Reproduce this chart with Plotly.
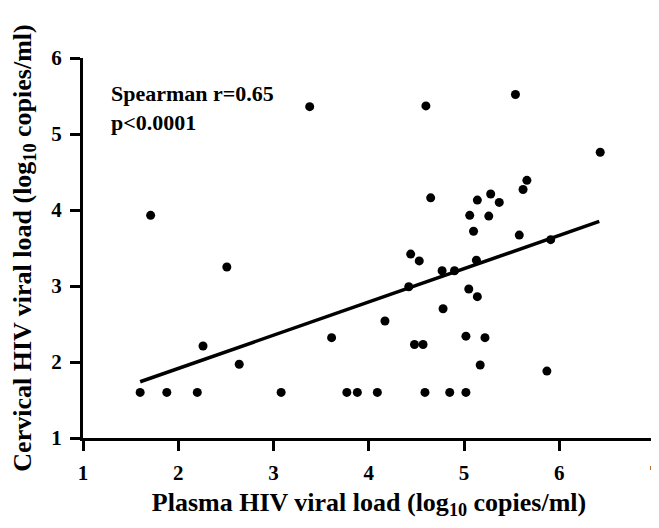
import plotly.graph_objects as go

# Scatter data (log10 copies/ml)
plasma = [1.60, 1.71, 1.88, 2.20, 2.26, 2.51, 2.64, 3.08, 3.38, 3.61, 3.77, 3.88,
          4.09, 4.17, 4.42, 4.44, 4.48, 4.53, 4.57, 4.59, 4.60, 4.65, 4.77, 4.78,
          4.85, 4.90, 5.02, 5.02, 5.05, 5.06, 5.10, 5.13, 5.14, 5.14, 5.17, 5.22,
          5.26, 5.28, 5.37, 5.54, 5.58, 5.62, 5.66, 5.87, 5.91, 6.43]
cervical = [1.60, 3.93, 1.60, 1.60, 2.21, 3.25, 1.97, 1.60, 5.36, 2.32, 1.60, 1.60,
            1.60, 2.54, 2.99, 3.42, 2.23, 3.33, 2.23, 1.60, 5.37, 4.16, 3.20, 2.70,
            1.60, 3.20, 2.34, 1.60, 2.96, 3.93, 3.72, 3.34, 4.13, 2.86, 1.96, 2.32,
            3.92, 4.21, 4.10, 5.52, 3.67, 4.27, 4.39, 1.88, 3.61, 4.76]

# Regression line end points
fit_x = [1.60, 6.42]
fit_y = [1.74, 3.85]

x_ticks = [1, 2, 3, 4, 5, 6, 7]
y_ticks = [1, 2, 3, 4, 5, 6]

annotation_text = "<b>Spearman r=0.65</b><br><b>p<0.0001</b>"
x_title = "<b>Plasma HIV viral load (log<sub>10</sub> copies/ml)</b>"
y_title = "<b>Cervical HIV viral load (log<sub>10</sub> copies/ml)</b>"

FONT = "Liberation Serif, Times New Roman, serif"

fig = go.Figure()
fig.add_trace(go.Scatter(x=fit_x, y=fit_y, mode="lines",
                         line=dict(color="black", width=3.5),
                         showlegend=False, hoverinfo="skip", cliponaxis=False))
fig.add_trace(go.Scatter(x=plasma, y=cervical, mode="markers",
                         marker=dict(color="black", size=9),
                         showlegend=False, cliponaxis=False))

fig.add_annotation(x=1.27, y=5.72, xref="x", yref="y", text=annotation_text,
                   showarrow=False, xanchor="left", yanchor="top", align="left",
                   font=dict(family=FONT, size=22, color="black"))

axis_common = dict(showline=True, linecolor="black", linewidth=3,
                   ticks="outside", ticklen=10, tickwidth=3, tickcolor="black",
                   showgrid=False, zeroline=False, automargin=False,
                   ticklabeloverflow="allow",
                   tickfont=dict(family=FONT, size=21, color="black"))

fig.update_xaxes(range=[1, 7.005], tickvals=x_ticks,
                 ticktext=["<b>%d</b>" % v for v in x_ticks],
                 ticklabelstandoff=4,
                 title=dict(text=x_title, standoff=13,
                            font=dict(family=FONT, size=26, color="black")),
                 **axis_common)
fig.update_yaxes(range=[1, 6], tickvals=y_ticks,
                 ticktext=["<b>%d</b>" % v for v in y_ticks],
                 ticklabelstandoff=4,
                 title=dict(text=y_title, standoff=21,
                            font=dict(family=FONT, size=26, color="black")),
                 **axis_common)

# The page adds an 8px body margin on every side; the figure is sized so the
# page does not overflow the 659x528 window (no scrollbars), and the margins
# place the plot area where the reference has it.
fig.update_layout(width=651, height=512, plot_bgcolor="white", paper_bgcolor="white",
                  margin=dict(l=75, r=4, t=50, b=82), showlegend=False)

fig.write_html("out.html")
